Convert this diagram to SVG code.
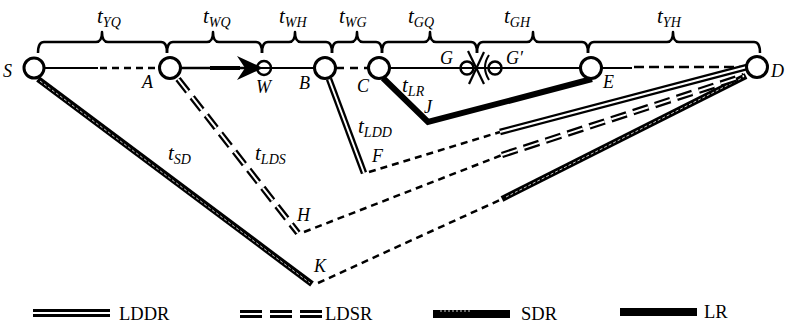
<svg xmlns="http://www.w3.org/2000/svg" width="785" height="325" viewBox="0 0 785 325">
<defs>
<style>
.bg{fill:#fff}
.node{fill:#fff;stroke:#000;stroke-width:3}
.snode{fill:none;stroke:#000;stroke-width:2.5}
.thin{fill:none;stroke:#000;stroke-width:2}
.dash{fill:none;stroke:#000;stroke-width:2.5;stroke-dasharray:7 5}
.brace{fill:none;stroke:#000;stroke-width:2.5;stroke-linejoin:round}
.ldd-o{fill:none;stroke:#000;stroke-width:6.5}
.ldd-i{fill:none;stroke:#fff;stroke-width:2}
.lds-o{fill:none;stroke:#000;stroke-width:6.5;stroke-dasharray:16 7}
.lds-i{fill:none;stroke:#fff;stroke-width:2;stroke-dasharray:16 7}
.sdr-o{fill:none;stroke:#000;stroke-width:6}
.sdr-i{fill:none;stroke:#fff;stroke-width:1;stroke-dasharray:3 2;opacity:0.8}
.lr{fill:none;stroke:#000;stroke-width:6}
text{font-family:'Liberation Serif','Times New Roman','DejaVu Serif',serif;fill:#000}
.lbl{font-style:italic;font-size:18px}
.tl{font-style:italic;font-size:21px}
.sub{font-size:14px}
.leg{font-size:18.5px}
</style>
</defs>
<rect class="bg" x="0" y="0" width="785" height="325"/>

<!-- braces -->
<g id="braces">
<path class="brace" d="M38,53 Q38,42 44,42 L96,42 Q102,42 102,32 Q102,42 108,42 L161,42 Q167,42 167,53"/>
<path class="brace" d="M167,53 Q167,42 173,42 L207,42 Q213,42 213,32 Q213,42 219,42 L256,42 Q262,42 262,53"/>
<path class="brace" d="M262,53 Q262,42 268,42 L289,42 Q295,42 295,32 Q295,42 301,42 L326,42 Q332,42 332,53"/>
<path class="brace" d="M332,53 Q332,42 338,42 L351,42 Q357,42 357,32 Q357,42 363,42 L376,42 Q382,42 382,53"/>
<path class="brace" d="M382,53 Q382,42 388,42 L424,42 Q430,42 430,32 Q430,42 436,42 L471,42 Q477,42 477,53"/>
<path class="brace" d="M477,53 Q477,42 483,42 L527,42 Q533,42 533,32 Q533,42 539,42 L582,42 Q588,42 588,53"/>
<path class="brace" d="M588,53 Q588,42 594,42 L667,42 Q673,42 673,32 Q673,42 679,42 L754,42 Q760,42 760,53"/>
<text class="tl" x="97" y="23">t<tspan class="sub" dy="4">YQ</tspan></text>
<text class="tl" x="203" y="23">t<tspan class="sub" dy="4">WQ</tspan></text>
<text class="tl" x="279" y="23">t<tspan class="sub" dy="4">WH</tspan></text>
<text class="tl" x="339" y="23">t<tspan class="sub" dy="4">WG</tspan></text>
<text class="tl" x="408" y="23">t<tspan class="sub" dy="4">GQ</tspan></text>
<text class="tl" x="504" y="23">t<tspan class="sub" dy="4">GH</tspan></text>
<text class="tl" x="657" y="23">t<tspan class="sub" dy="4">YH</tspan></text>
</g>

<!-- connectors -->
<g id="connectors">
<line class="thin" x1="44" y1="68" x2="98" y2="68"/>
<line class="dash" x1="100" y1="68" x2="160" y2="68"/>
<line class="thin" x1="180" y1="68" x2="246" y2="68" style="stroke-width:2.5"/>
<line class="thin" x1="210" y1="68" x2="240" y2="68" style="stroke-width:4"/>
<path d="M263,68 L237,56 L245,68 L237,80 Z" fill="#000"/>
<line class="thin" x1="256" y1="68" x2="315" y2="68"/>
<line class="dash" x1="336" y1="68" x2="368" y2="68" style="stroke-dasharray:8 6"/>
<line class="thin" x1="389" y1="68" x2="581" y2="68"/>
<line class="thin" x1="601" y1="68" x2="632" y2="68"/>
<line class="dash" x1="634" y1="67" x2="746" y2="67" style="stroke-dasharray:10 5"/>
<line class="thin" x1="468" y1="51" x2="484" y2="84" style="stroke-width:2.2"/>
<line class="thin" x1="484" y1="52" x2="469" y2="84" style="stroke-width:2.2"/>
<path class="thin" d="M489,55 Q481,67 489,80"/>

<line class="sdr-o" x1="38" y1="79" x2="312" y2="284"/>
<line class="sdr-i" x1="40" y1="81" x2="310" y2="283"/>
<line class="dash" x1="318" y1="283" x2="502" y2="199"/>
<line class="sdr-o" x1="502" y1="199" x2="746" y2="76"/>
<line class="sdr-i" x1="506" y1="197" x2="742" y2="78"/>

<line class="lds-o" x1="178" y1="79" x2="298" y2="233"/>
<line class="lds-i" x1="178" y1="79" x2="298" y2="233"/>
<line class="dash" x1="304" y1="232" x2="502" y2="155"/>
<line class="lds-o" x1="502" y1="155" x2="744" y2="76"/>
<line class="lds-i" x1="502" y1="155" x2="744" y2="76"/>

<line class="ldd-o" x1="329" y1="79" x2="364" y2="173"/>
<line class="ldd-i" x1="329" y1="79" x2="364" y2="173"/>
<line class="dash" x1="369" y1="172" x2="500" y2="132"/>
<line class="ldd-o" x1="500" y1="132" x2="747" y2="67"/>
<line class="ldd-i" x1="500" y1="132" x2="747" y2="67"/>

<polyline class="lr" points="383,78 428,122 592,79" style="stroke-linejoin:miter"/>
</g>

<!-- nodes -->
<g id="node-S"><circle class="node" cx="34" cy="68" r="10"/><text class="lbl" x="3" y="77">S</text></g>
<g id="node-A"><circle class="node" cx="170" cy="68" r="10.5"/><text class="lbl" x="142" y="88">A</text></g>
<g id="node-W"><circle class="snode" cx="264" cy="68" r="7"/><text class="lbl" x="256" y="93">W</text></g>
<g id="node-B"><circle class="node" cx="325" cy="68" r="10.5"/><text class="lbl" x="299" y="89">B</text></g>
<g id="node-C"><circle class="node" cx="379" cy="68" r="10.5"/><text class="lbl" x="357" y="92">C</text></g>
<g id="node-G"><circle class="snode" cx="467" cy="68" r="6.5"/><text class="lbl" x="440" y="64">G</text></g>
<g id="node-G2"><circle class="snode" cx="495" cy="68" r="6.5"/><text class="lbl" x="506" y="64">G′</text></g>
<g id="node-E"><circle class="node" cx="591" cy="68" r="10.5"/><text class="lbl" x="603" y="88">E</text></g>
<g id="node-D"><circle class="node" cx="757" cy="67" r="10.5"/><text class="lbl" x="771" y="77">D</text></g>
<g id="node-J"><text class="lbl" x="424" y="113">J</text></g>
<g id="node-F"><text class="lbl" x="372" y="162">F</text></g>
<g id="node-H"><text class="lbl" x="297" y="221">H</text></g>
<g id="node-K"><text class="lbl" x="314" y="272">K</text></g>

<g id="edge-labels">
<text class="tl" x="168" y="160">t<tspan class="sub" dy="4">SD</tspan></text>
<text class="tl" x="255" y="160">t<tspan class="sub" dy="4">LDS</tspan></text>
<text class="tl" x="358" y="133">t<tspan class="sub" dy="4">LDD</tspan></text>
<text class="tl" x="402" y="92">t<tspan class="sub" dy="4">LR</tspan></text>
</g>

<g id="legend">
<line x1="33" y1="313" x2="110" y2="313" stroke="#000" stroke-width="8"/>
<line x1="33" y1="313" x2="110" y2="313" stroke="#fff" stroke-width="2"/>
<text class="leg" x="119" y="320">LDDR</text>
<line x1="240" y1="314" x2="322" y2="314" stroke="#000" stroke-width="8" stroke-dasharray="22 8"/>
<line x1="240" y1="314" x2="322" y2="314" stroke="#fff" stroke-width="2" stroke-dasharray="22 8"/>
<text class="leg" x="325" y="320">LDSR</text>
<line x1="433" y1="314" x2="510" y2="314" stroke="#000" stroke-width="8"/>
<line x1="440" y1="311" x2="470" y2="311" stroke="#fff" stroke-width="1" stroke-dasharray="2 2" opacity="0.8"/>
<text class="leg" x="521" y="320">SDR</text>
<line x1="620" y1="312" x2="697" y2="312" stroke="#000" stroke-width="8"/>
<text class="leg" x="704" y="318">LR</text>
</g>
</svg>
